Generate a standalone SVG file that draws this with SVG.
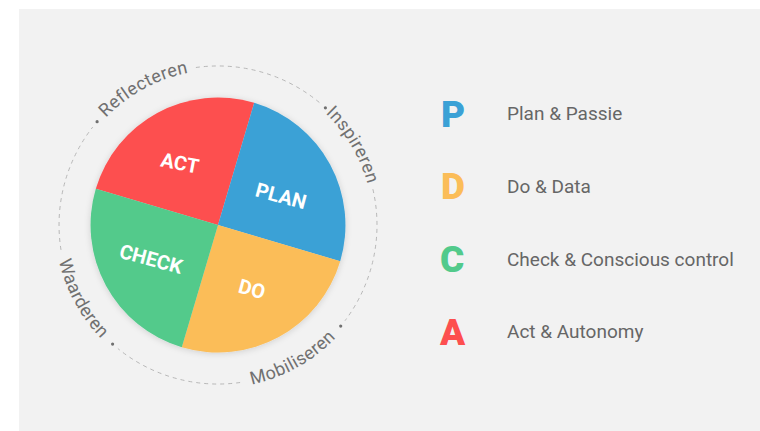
<svg xmlns="http://www.w3.org/2000/svg" width="760" height="431" viewBox="0 0 760 431">
  <defs>
    <filter id="shadow" x="-20%" y="-20%" width="140%" height="140%">
      <feDropShadow dx="0" dy="1" stdDeviation="3" flood-color="#000" flood-opacity="0.15"/>
    </filter>
    <path id="cwPath" d="M63,225 A155,155 0 1 1 373,225 A155,155 0 1 1 63,225"/>
    <path id="ccwPath" d="M55,225 A163,163 0 1 0 381,225 A163,163 0 1 0 55,225"/>
  </defs>
  <style>
    .seg-label { font-family: Roboto, "Liberation Sans", sans-serif; font-weight: bold; font-size: 20px; fill: #ffffff; text-anchor: middle; }
    .ring { fill: none; stroke: #b8b8b8; stroke-width: 1; stroke-dasharray: 4 4; }
    .ring-label { font-family: Roboto, "Liberation Sans", sans-serif; font-size: 18px; letter-spacing: 0.4px; fill: #707070; text-anchor: middle; }
    .dot { fill: #707070; }
    .big { font-family: Roboto, "Liberation Sans", sans-serif; font-weight: 900; font-size: 37px; }
    .desc { font-family: Roboto, "Liberation Sans", sans-serif; font-size: 19px; fill: #666666; }
  </style>

  <rect x="0" y="0" width="760" height="431" fill="#ffffff"/>
  <rect x="19" y="9" width="741" height="422" fill="#f2f2f2"/>

  <g id="connectors">
    <path class="ring" d="M195.9,67.5 A159,159 0 0 1 320.2,103.2"/>
    <path class="ring" d="M372.9,189.2 A159,159 0 0 1 345.0,320.7"/>
    <path class="ring" d="M240.1,382.5 A159,159 0 0 1 117.9,348.6"/>
    <path class="ring" d="M61.0,249.9 A159,159 0 0 1 92.7,127.1"/>
    <circle class="dot" cx="97.1" cy="121.7" r="1.6"/>
    <circle class="dot" cx="325.4" cy="107.8" r="1.6"/>
    <circle class="dot" cx="340.7" cy="326.1" r="1.6"/>
    <circle class="dot" cx="112.6" cy="344.1" r="1.6"/>
    <text class="ring-label"><textPath href="#cwPath" startOffset="166">Reflecteren</textPath></text>
    <text class="ring-label"><textPath href="#cwPath" startOffset="404">Inspireren</textPath></text>
    <text class="ring-label"><textPath href="#ccwPath" startOffset="339">Mobiliseren</textPath></text>
    <text class="ring-label"><textPath href="#ccwPath" startOffset="81">Waarderen</textPath></text>
  </g>

  <g id="pie" filter="url(#shadow)">
    <g id="act">
      <path d="M218,225 L95.8,188.8 A127.5,127.5 0 0 1 254.2,102.8 Z" fill="#fd4f4f"/>
    </g>
    <g id="plan">
      <path d="M218,225 L254.2,102.8 A127.5,127.5 0 0 1 340.2,261.2 Z" fill="#3ba1d6"/>
    </g>
    <g id="do">
      <path d="M218,225 L340.2,261.2 A127.5,127.5 0 0 1 181.8,347.2 Z" fill="#fbbd58"/>
    </g>
    <g id="check">
      <path d="M218,225 L181.8,347.2 A127.5,127.5 0 0 1 95.8,188.8 Z" fill="#52ca8b"/>
    </g>
  </g>
  <g id="pie-labels">
    <text class="seg-label" transform="translate(180,163) rotate(11)" y="7">ACT</text>
    <text class="seg-label" transform="translate(281,196) rotate(15)" y="7">PLAN</text>
    <text class="seg-label" transform="translate(151,259) rotate(15)" y="7">CHECK</text>
    <text class="seg-label" transform="translate(252,289) rotate(15)" y="7">DO</text>
  </g>

  <g id="legend-p">
    <text class="big" x="441" y="127" fill="#3ba1d6">P</text>
    <text class="desc" x="507" y="120">Plan &amp; Passie</text>
  </g>
  <g id="legend-d">
    <text class="big" x="441" y="199" fill="#fbbd58">D</text>
    <text class="desc" x="507" y="193">Do &amp; Data</text>
  </g>
  <g id="legend-c">
    <text class="big" x="440" y="272" fill="#52ca8b">C</text>
    <text class="desc" x="507" y="266">Check &amp; Conscious control</text>
  </g>
  <g id="legend-a">
    <text class="big" x="440" y="345" fill="#fd4f4f">A</text>
    <text class="desc" x="507" y="338">Act &amp; Autonomy</text>
  </g>
</svg>
